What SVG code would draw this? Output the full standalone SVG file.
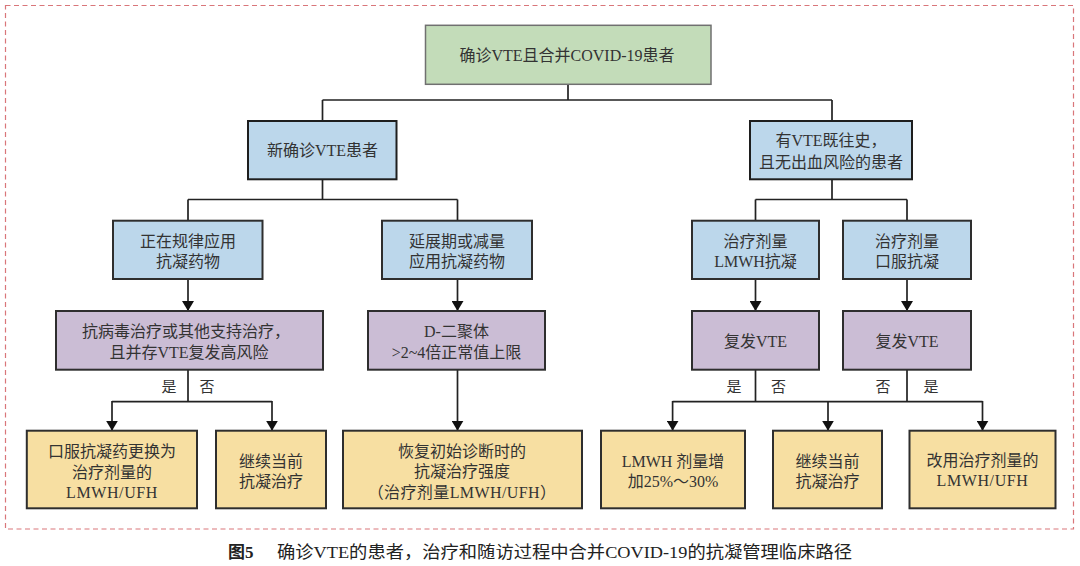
<svg xmlns="http://www.w3.org/2000/svg" width="1080" height="566" viewBox="0 0 1080 566">
<style>
  text { font-family: "Liberation Serif", "Noto Sans CJK SC", serif; font-size: 16px; fill: #333; text-anchor: middle; dominant-baseline: central; }
  .green { fill: #c3dcb9; stroke: #707070; stroke-width: 1.5; }
  .blue1 { fill: #bcd7eb; stroke: #1e1e1e; stroke-width: 2; }
  .blue { fill: #bcd7eb; stroke: #2e2e2e; stroke-width: 2; }
  .purple { fill: #cbbdd5; stroke: #2e2e2e; stroke-width: 2; }
  .yellow { fill: #f7dfa2; stroke: #2e2e2e; stroke-width: 2; }
  .conn { fill: none; stroke: #222; stroke-width: 1.7; }
  .lbl { font-size: 15px; }
  .cap { font-size: 17px; fill: #222; text-anchor: start; }
</style>
<defs>
  <marker id="arr" markerUnits="userSpaceOnUse" markerWidth="10" markerHeight="12" viewBox="0 0 10 12" refX="10" refY="6" orient="auto">
    <path d="M0,0 L10,6 L0,12 Z" fill="#111"/>
  </marker>
</defs>
<rect x="5.5" y="5.5" width="1068" height="523.5" fill="none" stroke="#d9767a" stroke-width="1.2" stroke-dasharray="5,3.5"/>

<g id="connectors">
  <path class="conn" d="M568,84 V100 M322.5,100 H832 M322.5,100 V121 M832,100 V121"/>
  <path class="conn" d="M322.5,179 V199.5 M188,199.5 H457.5 M188,199.5 V221 M457.5,199.5 V221"/>
  <path class="conn" d="M832,179 V199.5 M755.5,199.5 H907 M755.5,199.5 V221 M907,199.5 V221"/>
  <line class="conn" x1="188" y1="279" x2="188" y2="311" marker-end="url(#arr)"/>
  <line class="conn" x1="457.5" y1="279" x2="457.5" y2="311" marker-end="url(#arr)"/>
  <line class="conn" x1="755.5" y1="279" x2="755.5" y2="311" marker-end="url(#arr)"/>
  <line class="conn" x1="907" y1="279" x2="907" y2="311" marker-end="url(#arr)"/>
  <path class="conn" d="M188,370 V401.7 M112,401.7 H272"/>
  <line class="conn" x1="112" y1="401" x2="112" y2="430.7" marker-end="url(#arr)"/>
  <line class="conn" x1="272" y1="401" x2="272" y2="430.7" marker-end="url(#arr)"/>
  <line class="conn" x1="457.5" y1="370" x2="457.5" y2="430.7" marker-end="url(#arr)"/>
  <path class="conn" d="M755.5,370 V401.7 M907,370 V401.7 M672.6,401.7 H982.5"/>
  <line class="conn" x1="672.6" y1="401" x2="672.6" y2="430.7" marker-end="url(#arr)"/>
  <line class="conn" x1="828" y1="401" x2="828" y2="430.7" marker-end="url(#arr)"/>
  <line class="conn" x1="982.5" y1="401" x2="982.5" y2="430.7" marker-end="url(#arr)"/>
  <text class="lbl" x="169" y="387">是</text>
  <text class="lbl" x="207" y="387">否</text>
  <text class="lbl" x="734" y="387">是</text>
  <text class="lbl" x="778.5" y="387">否</text>
  <text class="lbl" x="883" y="387">否</text>
  <text class="lbl" x="931" y="387">是</text>
</g>

<g id="n-root">
  <rect class="green" x="425.5" y="25.3" width="285.5" height="59"/>
  <text x="567" y="55">确诊VTE且合并COVID-19患者</text>
</g>
<g id="n-new">
  <rect class="blue1" x="248" y="121" width="148.5" height="58.3"/>
  <text x="322.5" y="150">新确诊VTE患者</text>
</g>
<g id="n-hist">
  <rect class="blue1" x="750" y="121" width="162" height="58.3"/>
  <text x="831" y="140">有VTE既往史，</text>
  <text x="831" y="162">且无出血风险的患者</text>
</g>
<g id="n-regular">
  <rect class="blue" x="113" y="220.7" width="149.5" height="58.3"/>
  <text x="188" y="241">正在规律应用</text>
  <text x="188" y="261">抗凝药物</text>
</g>
<g id="n-extended">
  <rect class="blue" x="382" y="220.7" width="150" height="58.3"/>
  <text x="457" y="241">延展期或减量</text>
  <text x="457" y="261">应用抗凝药物</text>
</g>
<g id="n-lmwh">
  <rect class="blue" x="692" y="220.7" width="127" height="58.3"/>
  <text x="755.5" y="241">治疗剂量</text>
  <text x="755.5" y="261">LMWH抗凝</text>
</g>
<g id="n-oral">
  <rect class="blue" x="843" y="220.7" width="128" height="58.3"/>
  <text x="907" y="241">治疗剂量</text>
  <text x="907" y="261">口服抗凝</text>
</g>
<g id="n-antiviral">
  <rect class="purple" x="56" y="311" width="267" height="58.7"/>
  <text x="186" y="331.7">抗病毒治疗或其他支持治疗，</text>
  <text x="189" y="352.7">且并存VTE复发高风险</text>
</g>
<g id="n-ddimer">
  <rect class="purple" x="368" y="311" width="177" height="58.7"/>
  <text x="456.5" y="331.7">D-二聚体</text>
  <text x="456.5" y="352.7">&gt;2~4倍正常值上限</text>
</g>
<g id="n-rec1">
  <rect class="purple" x="692" y="311" width="127" height="58.7"/>
  <text x="755.5" y="341.7">复发VTE</text>
</g>
<g id="n-rec2">
  <rect class="purple" x="843" y="311" width="128" height="58.7"/>
  <text x="907" y="341.7">复发VTE</text>
</g>
<g id="n-switch">
  <rect class="yellow" x="26.8" y="430.7" width="170.2" height="77.6"/>
  <text x="112" y="451.7">口服抗凝药更换为</text>
  <text x="112" y="472.7">治疗剂量的</text>
  <text x="112" y="492.3" letter-spacing="0.6">LMWH/UFH</text>
</g>
<g id="n-cont1">
  <rect class="yellow" x="216" y="430.7" width="110" height="77.6"/>
  <text x="271" y="461.7">继续当前</text>
  <text x="271" y="481.7">抗凝治疗</text>
</g>
<g id="n-restore">
  <rect class="yellow" x="343" y="430.7" width="239" height="77.6"/>
  <text x="462" y="451.7">恢复初始诊断时的</text>
  <text x="462" y="471.7">抗凝治疗强度</text>
  <text x="462" y="492.3" letter-spacing="0.4">（治疗剂量LMWH/UFH）</text>
</g>
<g id="n-increase">
  <rect class="yellow" x="601" y="430.7" width="144" height="77.6"/>
  <text x="673" y="461.7">LMWH 剂量增</text>
  <text x="673" y="481.7">加25%～30%</text>
</g>
<g id="n-cont2">
  <rect class="yellow" x="773" y="430.7" width="109" height="77.6"/>
  <text x="827.5" y="461.7">继续当前</text>
  <text x="827.5" y="481.7">抗凝治疗</text>
</g>
<g id="n-change">
  <rect class="yellow" x="909.5" y="430.7" width="146" height="77.6"/>
  <text x="982.5" y="460.7">改用治疗剂量的</text>
  <text x="982.5" y="480.5" letter-spacing="0.6">LMWH/UFH</text>
</g>

<g id="caption">
  <text class="cap" x="228" y="552" font-weight="bold">图5</text>
  <text class="cap" x="277" y="552" textLength="575" lengthAdjust="spacingAndGlyphs">确诊VTE的患者，治疗和随访过程中合并COVID-19的抗凝管理临床路径</text>
</g>
</svg>
